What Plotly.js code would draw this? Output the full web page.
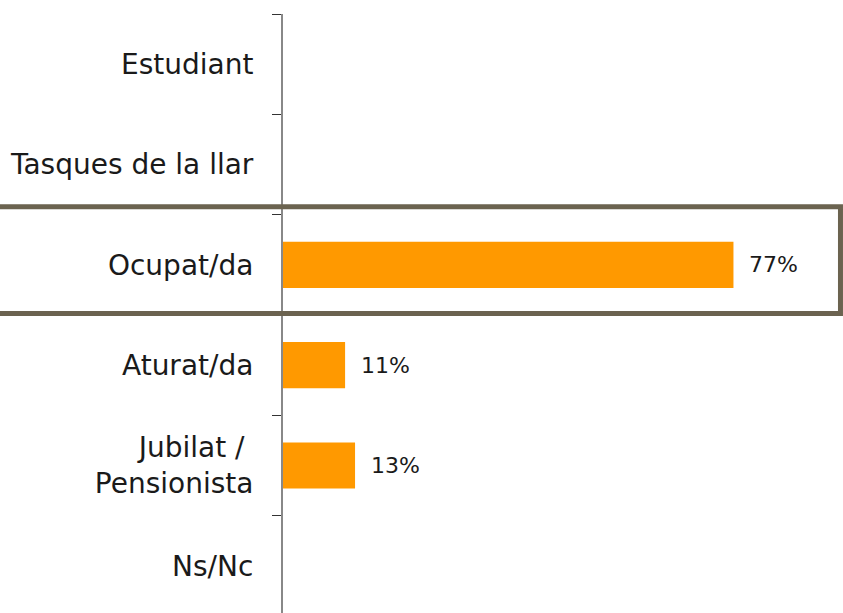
<!DOCTYPE html>
<html>
<head>
<meta charset="utf-8">
<script src="https://cdn.plot.ly/plotly-3.0.1.min.js"></script>
<style>
html,body{margin:0;padding:0;overflow:hidden;background:#fff;}
#chart{width:843px;height:616px;}
</style>
</head>
<body>
<div id="chart"></div>
<script>
const categories = ["Estudiant", "Tasques de la llar", "Ocupat/da", "Aturat/da", "Jubilat /&nbsp;<br>Pensionista", "Ns/Nc"];
const values = [0, 0, 76.9, 10.6, 12.3, 0];
const labels = ["", "", "77%", "11%", "13%", ""];
const highlighted = "Ocupat/da";

const FONT = "'DejaVu Sans', sans-serif";

const trace = {
  type: "bar",
  orientation: "h",
  y: categories,
  x: values,
  marker: {color: "#FF9900"},
  hoverinfo: "skip"
};

const annotations = [];
categories.forEach((c, i) => {
  if (labels[i]) {
    annotations.push({
      x: values[i], y: c, xref: "x", yref: "y",
      text: labels[i], showarrow: false,
      xanchor: "left", xshift: 14,
      font: {family: FONT, size: 22, color: "#1a1a1a"}
    });
  }
});

const hi = categories.indexOf(highlighted);

const layout = {
  width: 843, height: 616,
  margin: {l: 283, r: 0, t: 14, b: 0, pad: 0},
  paper_bgcolor: "#fff", plot_bgcolor: "#fff",
  showlegend: false,
  bargap: 0.54,
  xaxis: {range: [0, 95.6], visible: false, fixedrange: true},
  yaxis: {
    autorange: "reversed",
    showline: true, linecolor: "#888", linewidth: 2,
    ticks: "outside", tickson: "boundaries", ticklen: 9, tickcolor: "#333", tickwidth: 1,
    ticklabelstandoff: 22,
    showgrid: false, zeroline: false,
    tickfont: {family: FONT, size: 28, color: "#1a1a1a"}
  },
  annotations: annotations,
  shapes: [{
    type: "rect", xref: "paper", yref: "y",
    x0: -0.52, x1: 0.9955, y0: hi - 0.58, y1: hi + 0.485,
    line: {color: "#6b6350", width: 5}, fillcolor: "rgba(0,0,0,0)", layer: "above"
  }]
};

Plotly.newPlot("chart", [trace], layout, {displayModeBar: false, staticPlot: true});
</script>
</body>
</html>
